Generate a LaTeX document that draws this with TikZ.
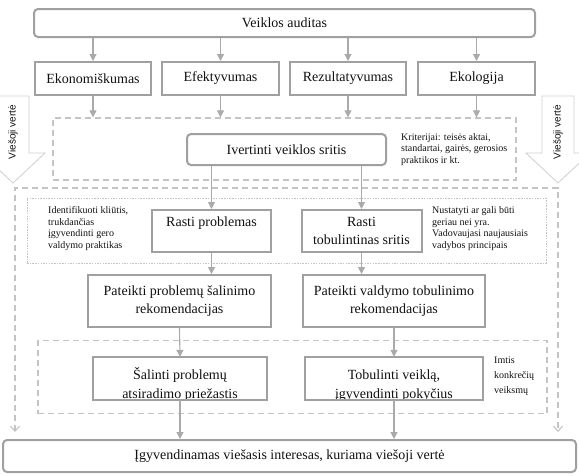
\documentclass[tikz,border=0pt]{standalone}
\usepackage{fontspec}
\setmainfont{Liberation Serif}
\newfontfamily\arialf{Liberation Sans}
\usetikzlibrary{arrows.meta}
\definecolor{boxc}{HTML}{A0A0A0}
\definecolor{arrc}{HTML}{AAAAAA}
\definecolor{dashc}{HTML}{C4C4C4}
\definecolor{blockc}{HTML}{CFCFCF}
\definecolor{txt}{HTML}{111111}
\begin{document}
\begin{tikzpicture}[x=1pt,y=-1pt,
  box/.style={draw=boxc, line width=2pt, fill=white, inner sep=0pt, align=center,
    font=\fontsize{14}{18.5}\selectfont, text=txt},
  rbox/.style={box, rounded corners=4pt},
  boxfill/.style={fill=white, inner sep=0pt},
  boxline/.style={draw=boxc, line width=2pt},
  boxtext/.style={inner sep=0pt, align=center, font=\fontsize{14}{19}\selectfont, text=txt},
  arr/.style={draw=arrc, line width=1.1pt, -{Triangle[length=7pt,width=7pt]}},
  dashbox/.style={draw=dashc, line width=1.3pt, dash pattern=on 6pt off 4pt, inner sep=0pt},
  dotbox/.style={draw=dashc, line width=1pt, dash pattern=on 1.5pt off 1.2pt, inner sep=0pt},
  note/.style={align=left, font=\fontsize{10}{11.6}\selectfont, text=txt, inner sep=0pt, anchor=north west},
  blk/.style={draw=blockc, line width=0.8pt, fill=white},
  blktext/.style={rotate=90, font=\arialf\fontsize{10}{12}\selectfont, text=txt, inner sep=0pt},
  openarr/.style={draw=dashc, line width=1.1pt, dash pattern=on 6pt off 4pt,
    {Straight Barb[length=5pt,width=9pt]}-{Straight Barb[length=5pt,width=9pt]}},
]
\useasboundingbox (0,0) rectangle (579,475);

% side block arrows
\draw[blk] (-3,96) -- (29,96) -- (29,153) -- (45,153) -- (13,183) -- (-19,153) -- (-3,153) -- cycle;
\draw[blk] (542,96) -- (574,96) -- (574,153) -- (590,153) -- (558,183) -- (526,153) -- (542,153) -- cycle;
\node[blktext] (lvv) at (13,132) {Viešoji vertė};
\node[blktext] (rvv) at (558,132) {Viešoji vertė};

% dashed groups
\node[dashbox, minimum width=463pt, minimum height=62pt] (d1) at (284.5,149) {};
\coordinate (obl) at (15,432);
\coordinate (otl) at (15,188);
\coordinate (otr) at (558,188);
\coordinate (obr) at (558,432);
\draw[openarr] (obl) -- (otl) -- (otr) -- (obr);
\node[dotbox, minimum width=519pt, minimum height=65pt] (dot) at (286.5,230.5) {};
\node[dashbox, minimum width=509pt, minimum height=73pt] (d3) at (292.5,377) {};

% boxes
\node[rbox, minimum width=501pt, minimum height=28pt] (veik) at (284.5,23) {Veiklos auditas};
\node[box, minimum width=116pt, minimum height=33pt] (ekon) at (93,78.5) {Ekonomiškumas};
\node[box, minimum width=117pt, minimum height=33pt] (efek) at (220.5,78.5) {Efektyvumas};
\node[box, minimum width=116pt, minimum height=33pt] (rez) at (348,78.5) {Rezultatyvumas};
\node[box, minimum width=117pt, minimum height=33pt] (eko) at (476.5,78.5) {Ekologija};

\node[rbox, minimum width=199pt, minimum height=31pt] (ivert) at (286.5,149.5) {Ivertinti veiklos sritis};
\node[note] (krit) at (401,133) {Kriterijai: teisės aktai,\\standartai, gairės, gerosios\\praktikos ir kt.};

\node[box, minimum width=119pt, minimum height=42pt] (rastip) at (211.5,231) {Rasti problemas\\\mbox{}};
\node[box, minimum width=120pt, minimum height=42pt] (rastit) at (361.5,231) {Rasti\\tobulintinas sritis};
\node[note] (ident) at (48,206.5) {Identifikuoti kliūtis,\\trukdančias\\įgyvendinti gero\\valdymo praktikas};
\node[note] (nust) at (432,206.5) {Nustatyti ar gali būti\\geriau nei yra.\\Vadovaujasi naujausiais\\vadybos principais};

\node[box, minimum width=183pt, minimum height=52pt] (patp) at (179.5,301) {Pateikti problemų šalinimo\\rekomendacijas};
\node[box, minimum width=182pt, minimum height=52pt] (patt) at (394,301) {Pateikti valdymo tobulinimo\\rekomendacijas};

% boxes whose last line is cut by the frame
\node[boxfill, minimum width=174pt, minimum height=43pt] (salp) at (180,378.5) {};
\node[boxfill, minimum width=178pt, minimum height=43pt] (tobt) at (394,378.5) {};
\begin{scope}
  \clip (salp.south west) rectangle (salp.north east);
  \node[boxtext] (salpt) at (180,384) {Šalinti problemų\\atsiradimo priežastis};
\end{scope}
\begin{scope}
  \clip (tobt.south west) rectangle (tobt.north east);
  \node[boxtext] (tobtt) at (394,385.5) {Tobulinti veiklą,\\įgyvendinti pokyčius};
\end{scope}
\draw[boxline] (salp.south west) rectangle (salp.north east);
\draw[boxline] (tobt.south west) rectangle (tobt.north east);
\node[note, font=\fontsize{10}{15}\selectfont] (imtis) at (494,357) {Imtis\\konkrečių\\veiksmų};

\node[rbox, minimum width=573pt, minimum height=32pt] (bot) at (289.5,456) {Įgyvendinamas viešasis interesas, kuriama viešoji vertė};

% connectors
\foreach \n in {ekon,efek,rez,eko}{
  \draw[arr] (veik.south -| \n) -- (\n.north);
  \draw[arr] (\n.south) -- (\n.south |- d1.north);
}
\draw[arr] (ivert.south -| rastip) -- (rastip.north);
\draw[arr] (ivert.south -| rastit) -- (rastit.north);
\draw[arr] (rastip.south) -- (rastip.south |- patp.north);
\draw[arr] (rastit.south) -- (rastit.south |- patt.north);
\draw[arr] (patp.south) -- (salp.north);
\draw[arr] (patt.south) -- (tobt.north);
\draw[arr] (salp.south) -- (salp.south |- bot.north);
\draw[arr] (tobt.south) -- (tobt.south |- bot.north);
\end{tikzpicture}
\end{document}
